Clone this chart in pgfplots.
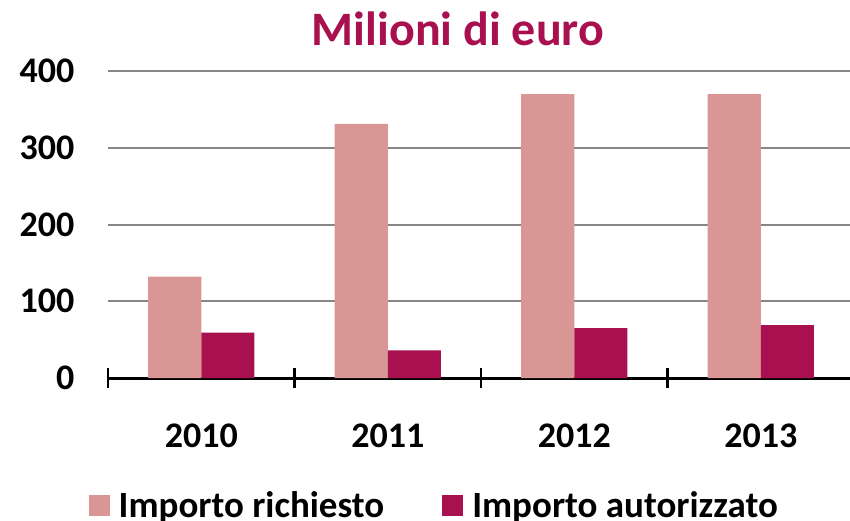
\documentclass[border=0pt]{standalone}
\usepackage{pgfplots}
\pgfplotsset{compat=1.18}
\usepackage{fontspec}
\setmainfont{Carlito}
\definecolor{rich}{HTML}{D99694}
\definecolor{auto}{HTML}{A8104F}
\definecolor{gridg}{HTML}{868686}
\begin{document}
\begin{tikzpicture}
\useasboundingbox (0pt,0pt) rectangle (850pt,-520pt);
\begin{axis}[
  at={(108pt,-378pt)}, anchor=south west,
  scale only axis, width=746pt, height=307pt,
  ymin=0, ymax=400, xmin=-0.5, xmax=3.5,
  ybar, bar width=0.285,
  axis x line*=bottom, axis y line*=left,
  x axis line style={black, line width=3pt, -},
  y axis line style={draw=none},
  ytick={0,100,200,300,400},
  ymajorgrids, grid style={gridg, line width=2pt},
  xtick={0,1,2,3}, xticklabels={2010,2011,2012,2013},
  major tick length=0pt,
  extra x ticks={-0.5,0.5,1.5,2.5,3.5},
  extra x tick labels={},
  extra x tick style={major tick length=20pt, tick align=center, tick style={black, line width=2.5pt}, grid=none},
  /pgf/number format/assume math mode=true,
  xticklabel style={font=\fontsize{36}{36}\selectfont\bfseries, yshift=-42pt},
  yticklabel style={font=\fontsize{36}{36}\selectfont\bfseries, anchor=east, xshift=-30pt},
  title={Milioni di euro},
  title style={at={(0.469,1.118)}, anchor=center, font=\fontsize{48}{48}\selectfont\bfseries, text=auto},
  legend style={at={(0.436,-0.415)}, anchor=center, draw=none, legend columns=2,
    font=\fontsize{37}{37}\selectfont\bfseries, column sep=0pt, inner sep=0pt,
    nodes={inner sep=0pt, outer sep=0pt},
    /tikz/every odd column/.append style={column sep=9pt},
    /tikz/every even column/.append style={column sep=58pt}},
  legend image code/.code={\fill[#1] (0pt,-10.5pt) rectangle (21pt,10.5pt);},
  clip=false,
]
\addplot[fill=rich, draw=none, bar shift=-0.1425] coordinates {(0,132) (1,331) (2,370) (3,370)};
\addplot[fill=auto, draw=none, bar shift=0.1425] coordinates {(0,59) (1,36) (2,65) (3,69)};
\legend{Importo richiesto, Importo autorizzato}
\end{axis}
\end{tikzpicture}
\end{document}
